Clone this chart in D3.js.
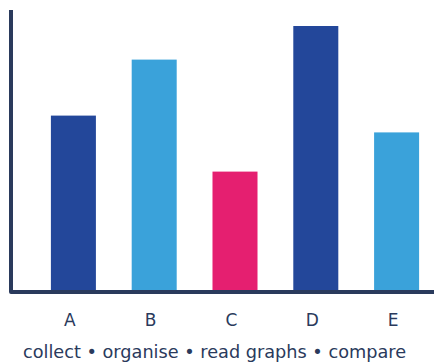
<!DOCTYPE html>
<html>
<head>
<meta charset="utf-8">
<script src="https://cdn.jsdelivr.net/npm/d3@7"></script>
<style>
  html, body { margin: 0; padding: 0; background: #ffffff; }
  svg { display: block; }
</style>
</head>
<body>
<script>
// Bar chart data
const categories = ["A", "B", "C", "D", "E"];
const values = [63, 83, 43, 95, 57];
const barColors = ["#23479a", "#3aa2da", "#e51f70", "#23479a", "#3aa2da"];
const caption = "collect • organise • read graphs • compare";

const W = 434, H = 363;
const ink = "#2a3a5c";

const svg = d3.select("body").append("svg")
  .attr("width", W).attr("height", H);

const x = d3.scaleBand()
  .domain(categories)
  .range([33, 437])
  .paddingInner(0.443)
  .paddingOuter(0.2215);

const y = d3.scaleLinear()
  .domain([0, 100])
  .range([292, 12]);

// Bars
svg.append("g")
  .selectAll("rect")
  .data(categories)
  .join("rect")
  .attr("x", d => x(d))
  .attr("width", x.bandwidth())
  .attr("y", (d, i) => y(values[i]))
  .attr("height", (d, i) => y(0) - y(values[i]))
  .attr("fill", (d, i) => barColors[i]);

// Axis frame: vertical then horizontal, joined at the corner
svg.append("path")
  .attr("d", `M11,10 V${y(0)} H${W}`)
  .attr("fill", "none")
  .attr("stroke", ink)
  .attr("stroke-width", 4)
  .attr("stroke-linejoin", "round");

// Category labels, set slightly left of each bar's centre
svg.append("g")
  .selectAll("text")
  .data(categories)
  .join("text")
  .attr("x", d => x(d) + x.bandwidth() / 2 - 3.5)
  .attr("y", 326)
  .attr("text-anchor", "middle")
  .attr("font-family", "DejaVu Sans, sans-serif")
  .attr("font-size", 17)
  .attr("fill", ink)
  .text(d => d);

// Caption
svg.append("text")
  .attr("x", 214.5)
  .attr("y", 357.5)
  .attr("text-anchor", "middle")
  .attr("font-family", "DejaVu Sans, sans-serif")
  .attr("font-size", 17.7)
  .attr("fill", ink)
  .text(caption);
</script>
</body>
</html>
